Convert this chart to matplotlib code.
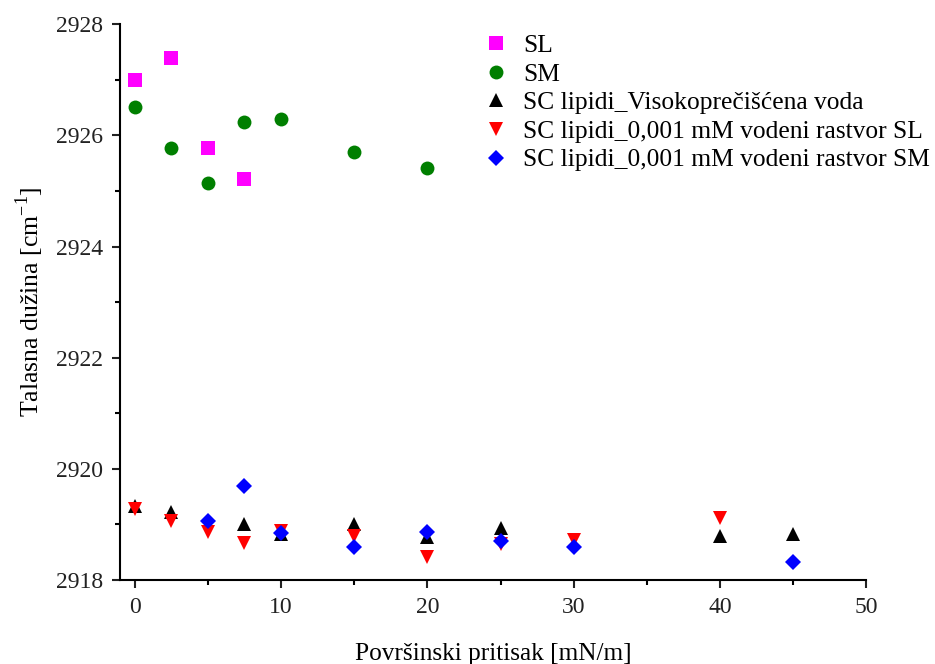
import matplotlib
matplotlib.use('Agg')
import matplotlib.pyplot as plt
from matplotlib.ticker import MultipleLocator

plt.rcParams['font.family'] = ['Liberation Serif', 'DejaVu Serif']

# Wavenumber of CH2 stretching vs. surface pressure
x_sl = [0, 2.5, 5, 7.5]
y_sl = [2927.0, 2927.39, 2925.77, 2925.22]

x_sm = [0, 2.5, 5, 7.5, 10, 15, 20]
y_sm = [2926.51, 2925.78, 2925.14, 2926.25, 2926.30, 2925.70, 2925.42]

x_water = [0, 2.5, 7.5, 10, 15, 20, 25, 40, 45]
y_water = [2919.33, 2919.22, 2919.0, 2918.83, 2919.0, 2918.77, 2918.93, 2918.80, 2918.82]

x_rsl = [0, 2.5, 5, 7.5, 10, 15, 20, 25, 30, 40]
y_rsl = [2919.27, 2919.07, 2918.86, 2918.67, 2918.88, 2918.79, 2918.41, 2918.65, 2918.72, 2919.12]

x_rsm = [5, 7.5, 10, 15, 20, 25, 30, 45]
y_rsm = [2919.07, 2919.70, 2918.85, 2918.59, 2918.86, 2918.70, 2918.60, 2918.32]

labels = ['SL', 'SM', 'SC lipidi_Visokoprečišćena voda',
          'SC lipidi_0,001 mM vodeni rastvor SL',
          'SC lipidi_0,001 mM vodeni rastvor SM']

fig = plt.figure(figsize=(9.35, 6.64), dpi=100)
ax = fig.add_axes([0.1283, 0.1265, 0.7984, 0.8369])

ax.plot(x_sl, y_sl, 's', color='#ff00ff', ms=9.5, mew=0, label=labels[0])
ax.plot(x_sm, y_sm, 'o', color='#007f00', ms=10, mew=0, label=labels[1])
ax.plot(x_water, y_water, '^', color='black', ms=10, mew=0, label=labels[2])
ax.plot(x_rsl, y_rsl, 'v', color='#ff0000', ms=10, mew=0, label=labels[3])
ax.plot(x_rsm, y_rsm, 'D', color='#0000ff', ms=8.5, mew=0, label=labels[4])

ax.set_xlim(-1, 50)
ax.set_ylim(2918, 2928)
ax.xaxis.set_major_locator(MultipleLocator(10))
ax.xaxis.set_minor_locator(MultipleLocator(5))
ax.yaxis.set_major_locator(MultipleLocator(2))
ax.yaxis.set_minor_locator(MultipleLocator(1))

for side in ['top', 'right']:
    ax.spines[side].set_visible(False)
for side in ['left', 'bottom']:
    ax.spines[side].set_linewidth(1.5)

ax.tick_params(which='major', direction='out', length=6, width=1.5,
               labelsize=17, colors='#222222', pad=6)
ax.tick_params(which='minor', direction='out', length=3.5, width=1.5)

ax.set_xlabel('Površinski pritisak [mN/m]', fontsize=18.2, labelpad=18)
ax.set_ylabel('Talasna dužina [cm$^{\\mathregular{-1}}$]', fontsize=18.5, labelpad=7)

ax.legend(loc='upper left', bbox_to_anchor=(0.465, 1.0), frameon=False,
          fontsize=18.4, handletextpad=0.3, labelspacing=0.22, borderaxespad=0,
          handlelength=1.5)

fig.savefig('out.png', dpi=100)
